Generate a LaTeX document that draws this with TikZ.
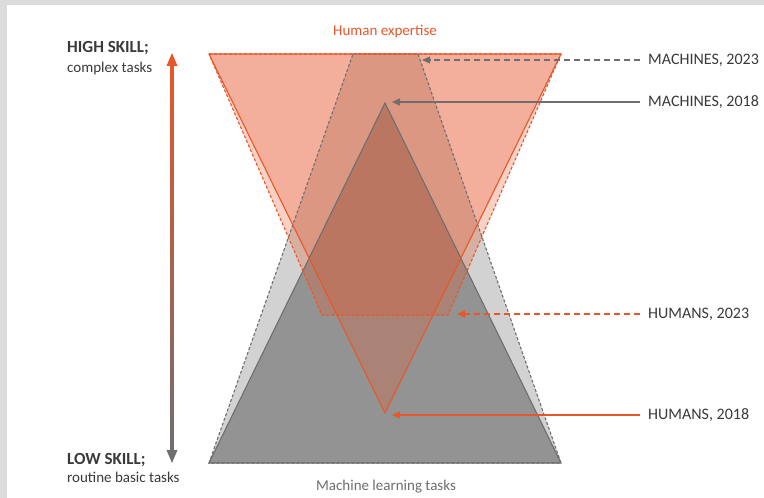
\documentclass[tikz,border=0pt]{standalone}
\usepackage{fontspec}
\setmainfont{Carlito}
\usetikzlibrary{arrows.meta}

\definecolor{hmorange}{HTML}{E8572A}
\definecolor{hmline}{HTML}{6E6E6E}
\definecolor{mlgray}{HTML}{939393}
\definecolor{mllight}{HTML}{D2D2D2}
\definecolor{txtgray}{HTML}{3A3A3A}
\definecolor{framegray}{HTML}{DCDCDC}

\begin{document}
\begin{tikzpicture}[x=1bp,y=-1bp,
  every node/.style={font=\fontsize{15bp}{18bp}\selectfont,text=txtgray,inner sep=0},
  tag/.style={anchor=west,inner xsep=8bp,font=\fontsize{16bp}{18bp}\selectfont},
  skill/.style={anchor=base west,font=\fontsize{17bp}{18bp}\selectfont\bfseries},
  edgedash/.style={line width=1.1bp,dash pattern=on 3bp off 2bp},
  lead/.style={line width=1.2bp,-{Triangle[length=8bp,width=7bp]}},
  leaddash/.style={lead,dash pattern=on 6bp off 4bp}]
\useasboundingbox (0,0) rectangle (764,498);
\fill[framegray] (0,0) rectangle (764,498);
\fill[white] (7,5) rectangle (764,498);

% corners of the two big shapes
\coordinate (tl) at (209,54);
\coordinate (tr) at (561,54);
\coordinate (bl) at (209,463);
\coordinate (br) at (561,463);
\coordinate (m23l) at (353,54);
\coordinate (m23r) at (418,54);
\coordinate (m18apex) at (385,103);
\coordinate (h23l) at (322,315);
\coordinate (h23r) at (448,315);
\coordinate (h18apex) at (385,413);

% fills
\fill[mllight] (m23l) -- (m23r) -- (br) -- (bl) -- cycle;
\fill[mlgray] (m18apex) -- (br) -- (bl) -- cycle;
\fill[hmorange,fill opacity=0.27] (tl) -- (tr) -- (h23r) -- (h23l) -- cycle;
\fill[hmorange,fill opacity=0.27] (tl) -- (tr) -- (h18apex) -- cycle;

% outlines
\draw[hmline,edgedash] (m23l) -- (m23r) -- (br) -- (bl) -- cycle;
\draw[hmline,line width=1.1bp] (m18apex) -- (br) -- (bl) -- cycle;
\draw[hmorange,edgedash] (tl) -- (tr) -- (h23r) -- (h23l) -- cycle;
\draw[hmorange,line width=1.1bp,line join=round] (tl) -- (tr) -- (h18apex) -- cycle;

% skill axis
\coordinate (hi) at (172,53);
\coordinate (lo) at (172,463);
\shade[top color=hmorange,bottom color=hmline] (170.5,64) rectangle (173.5,452);
\fill[hmorange] (hi) -- ++(-5.5,13) -- ++(11,0) -- cycle;
\fill[hmline] (lo) -- ++(-5.5,-13) -- ++(11,0) -- cycle;

\node[skill] (hiskill) at (67,53) {HIGH SKILL;};
\node[anchor=base west] (hitasks) at (67,72.5) {complex tasks};
\node[skill] (loskill) at (67,464) {LOW SKILL;};
\node[anchor=base west] (lotasks) at (67,482.5) {routine basic tasks};
\node[anchor=base,text=hmorange] (hexp) at (385,36) {Human expertise};
\node[anchor=base,text=hmline] (mltasks) at (386,490) {Machine learning tasks};

% labels on the right
\node[tag] (m23) at (640,60) {MACHINES, 2023};
\node[tag] (m18) at (640,102) {MACHINES, 2018};
\node[tag] (h23) at (640,314) {HUMANS, 2023};
\node[tag] (h18) at (640,415) {HUMANS, 2018};
\coordinate (m23tip) at (422,60);
\coordinate (m18tip) at (392,102);
\coordinate (h23tip) at (457,314);
\coordinate (h18tip) at (392,415);
\draw[leaddash,hmline] (m23.west) -- (m23tip);
\draw[lead,hmline] (m18.west) -- (m18tip);
\draw[leaddash,hmorange] (h23.west) -- (h23tip);
\draw[lead,hmorange] (h18.west) -- (h18tip);
\end{tikzpicture}
\end{document}
